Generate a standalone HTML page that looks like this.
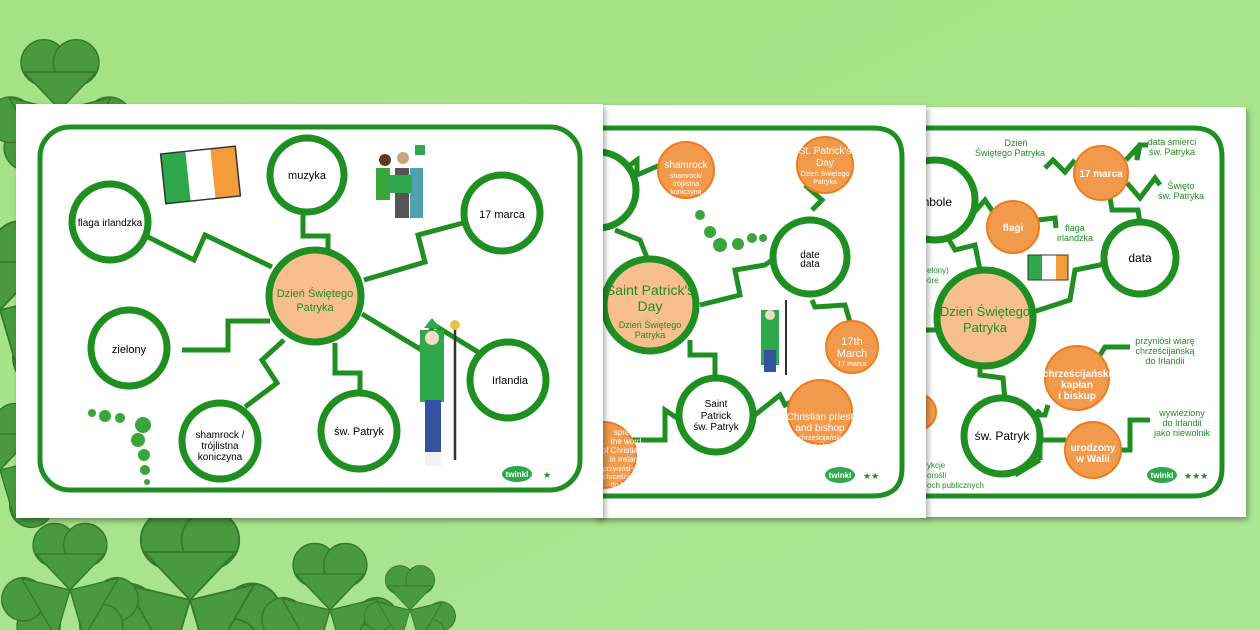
<!DOCTYPE html>
<html><head><meta charset="utf-8"><style>
html,body{margin:0;padding:0;width:1260px;height:630px;overflow:hidden;background:#a6e38a}
svg{display:block;position:absolute;left:0;top:0;overflow:hidden}
text{font-family:"Liberation Sans","DejaVu Sans",sans-serif}
</style></head><body>
<svg width="1260" height="630" viewBox="0 0 1260 630" xmlns="http://www.w3.org/2000/svg">
<defs>
<linearGradient id="bg" x1="0" y1="0" x2="1" y2="1"><stop offset="0" stop-color="#a3e285"/><stop offset="1" stop-color="#ace692"/></linearGradient>
<filter id="sh" x="-5%" y="-5%" width="110%" height="110%"><feDropShadow dx="2" dy="3" stdDeviation="3" flood-color="#000" flood-opacity="0.35"/></filter>
<g id="leaf"><circle cx="-17" cy="-12" r="24"/><circle cx="17" cy="-12" r="24"/><path d="M-38 -2 L0 38 L38 -2Z"/></g>
<g id="clover"><use href="#leaf" transform="translate(0,-38)"/><use href="#leaf" transform="rotate(120) translate(0,-38)"/><use href="#leaf" transform="rotate(240) translate(0,-38)"/></g>
<clipPath id="cp"><rect width="1260" height="630"/></clipPath>
</defs>
<g clip-path="url(#cp)">
<rect width="1260" height="630" fill="url(#bg)"/>
<g fill="#489a3c" stroke="#35782b" stroke-width="1.5">
<use href="#clover" transform="translate(60,110) scale(0.95)"/>
<use href="#clover" transform="translate(0,310) scale(1.2)"/>
<use href="#clover" transform="translate(0,470) scale(0.9)"/>
<use href="#clover" transform="translate(190,600) scale(1.2)"/>
<use href="#clover" transform="translate(330,610) scale(0.9)"/>
<use href="#clover" transform="translate(410,610) scale(0.6)"/>
<use href="#clover" transform="translate(70,590) scale(0.9)"/>
</g>

<!-- Card 3 -->
<g filter="url(#sh)"><rect x="924" y="107" width="322" height="410" fill="#fff"/></g>
<g stroke="#1f8f22" stroke-width="5" fill="none">
<path d="M920 128 H1193 Q1222 128 1222 157 V468 Q1222 496 1193 496 H926"/>
<path d="M972 215 L985 200 L995 215 L1000 222"/>
<path d="M948 238 L955 250 L975 245 L980 270"/>
<path d="M1038 220 L1055 218 L1056 228"/>
<path d="M1033 312 L1070 300 L1075 270 L1100 265 L1106 262"/>
<path d="M1110 197 L1112 210 L1138 210 L1140 223"/>
<path d="M1045 168 L1053 160 L1065 172 L1075 160"/>
<path d="M1126 160 L1137 148 L1137 160 L1140 145 L1148 145"/>
<path d="M1127 183 L1140 198 L1155 178 L1160 185"/>
<path d="M980 365 L980 375 L1003 378 L1005 400"/>
<path d="M1040 410 L1035 415 L1045 415 L1048 405"/>
<path d="M1097 360 L1105 347 L1130 347"/>
<path d="M1040 460 L1040 440 L1066 440"/>
<path d="M1120 450 L1130 450 L1130 420 L1150 420"/>
<path d="M1015 475 L1040 460"/>
<path d="M925 330 L940 330"/>
</g>
<g stroke="#1f8f22" stroke-width="7">
<circle cx="935" cy="200" r="40" fill="#fff"/>
<circle cx="1140" cy="258" r="36" fill="#fff"/>
<circle cx="985" cy="318" r="48" fill="#f7bf8d"/>
<circle cx="1002" cy="436" r="38" fill="#fff"/>
</g>
<g stroke="#f07a1e" stroke-width="2" fill="#f29a4c">
<circle cx="1013" cy="227" r="26"/><circle cx="1101" cy="173" r="27"/><circle cx="1077" cy="378" r="32"/><circle cx="1093" cy="450" r="28"/><circle cx="918" cy="412" r="18"/>
</g>
<rect x="1028" y="255" width="14" height="25" fill="#2ea84a"/><rect x="1042" y="255" width="14" height="25" fill="#fff"/><rect x="1056" y="255" width="12" height="25" fill="#f59c3a"/><rect x="1028" y="255" width="40" height="25" fill="none" stroke="#333" stroke-width="1"/>
<g fill="#1f8f22" font-size="13" text-anchor="middle"><text x="985" y="316">Dzień Świętego</text><text x="985" y="332">Patryka</text></g>
<g font-size="12" fill="#000" text-anchor="middle">
<text x="952" y="206" text-anchor="end">mbole</text>
<text x="1140" y="262">data</text>
<text x="1002" y="440">św. Patryk</text>
</g>
<g fill="#fff" text-anchor="middle" font-weight="bold" font-size="10">
<text x="1013" y="231">flagi</text><text x="1101" y="177">17 marca</text>
<text x="1077" y="377">chrześcijański</text><text x="1077" y="388">kapłan</text><text x="1077" y="399">i biskup</text>
<text x="1093" y="451">urodzony</text><text x="1093" y="462">w Walii</text>
</g>
<g fill="#1f8f22" font-size="9" text-anchor="middle">
<text x="1016" y="146">Dzień</text><text x="1010" y="156">Świętego Patryka</text>
<text x="1172" y="145">data śmierci</text><text x="1172" y="155">św. Patryka</text>
<text x="1181" y="189">Święto</text><text x="1181" y="199">św. Patryka</text>
<text x="1075" y="231">flaga</text><text x="1075" y="241">irlandzka</text>
<text x="1165" y="344">przyniósł wiarę</text><text x="1165" y="354">chrześcijańską</text><text x="1165" y="364">do Irlandii</text>
<text x="1182" y="416">wywieziony</text><text x="1182" y="426">do Irlandii</text><text x="1182" y="436">jako niewolnik</text>
</g>
<g fill="#1f8f22" font-size="8"><text x="927" y="273">elony)</text><text x="927" y="283">óre</text><text x="927" y="468">ykcje</text><text x="927" y="478">orośli</text><text x="927" y="488">och publicznych</text></g>
<ellipse cx="1162" cy="475" rx="15" ry="8" fill="#2ea84a"/><text x="1162" y="478" font-size="8" fill="#fff" text-anchor="middle" font-weight="bold">twinkl</text>
<text x="1184" y="479" font-size="9" fill="#1f8f22">★★★</text>

<!-- Card 2 -->
<g filter="url(#sh)"><rect x="596" y="105" width="330" height="413" fill="#fff"/></g>
<g stroke="#1f8f22" stroke-width="5" fill="none">
<path d="M603 128 H873 Q902 128 902 157 V468 Q902 496 873 496 H603"/>
<path d="M630 165 L637 160 L637 175 L660 165"/>
<path d="M615 230 L640 240 L648 260"/>
<path d="M700 305 L740 295 L735 270 L765 265 L772 260"/>
<path d="M805 185 L822 200 L812 210"/>
<path d="M812 300 L815 307 L845 305 L850 322"/>
<path d="M690 340 L690 355 L715 355 L715 380"/>
<path d="M680 420 L665 410 L665 440 L630 440"/>
<path d="M755 415 L780 395 L785 405 L795 400"/>
</g>
<g stroke="#1f8f22" stroke-width="7">
<circle cx="598" cy="190" r="38" fill="#fff"/>
<circle cx="810" cy="257" r="37" fill="#fff"/>
<circle cx="650" cy="305" r="46" fill="#f7bf8d"/>
<circle cx="716" cy="415" r="37" fill="#fff"/>
</g>
<g stroke="#f07a1e" stroke-width="2" fill="#f29a4c">
<circle cx="686" cy="170" r="28"/><circle cx="825" cy="165" r="28"/><circle cx="852" cy="347" r="26"/><circle cx="820" cy="412" r="32"/><circle cx="603" cy="455" r="33"/>
</g>
<g fill="#000" font-size="10" text-anchor="middle">
<text x="810" y="258">date</text><text x="810" y="267">data</text>
<text x="716" y="407">Saint</text><text x="716" y="419">Patrick</text><text x="716" y="430">św. Patryk</text>
</g>
<g fill="#1f8f22" text-anchor="middle">
<text x="650" y="295" font-size="14">Saint Patrick's</text><text x="650" y="311" font-size="14">Day</text>
<text x="650" y="328" font-size="9">Dzień Świętego</text><text x="650" y="338" font-size="9">Patryka</text>
</g>
<g fill="#fff" text-anchor="middle" font-size="9">
<text x="686" y="168" font-size="10">shamrock</text><text x="686" y="178" font-size="7">shamrock/</text><text x="686" y="186" font-size="7">trójlistna</text><text x="686" y="194" font-size="7">koniczyna</text>
<text x="825" y="154" font-size="10">St. Patrick's</text><text x="825" y="166" font-size="10">Day</text><text x="825" y="176" font-size="7">Dzień Świętego</text><text x="825" y="184" font-size="7">Patryka</text>
<text x="852" y="345" font-size="11">17th</text><text x="852" y="357" font-size="11">March</text><text x="852" y="366" font-size="7">17 marca</text>
<text x="820" y="420" font-size="10">Christian priest</text><text x="820" y="431" font-size="10">and bishop</text><text x="820" y="440" font-size="7">chrześcijański</text><text x="820" y="448" font-size="7">kapłan i biskup</text>
<text x="626" y="435" font-size="8">spread</text><text x="626" y="444" font-size="8">the word</text><text x="626" y="453" font-size="8">of Christianity</text><text x="626" y="462" font-size="8">in Ireland</text><text x="626" y="471" font-size="7">przyniósł wiarę</text><text x="626" y="479" font-size="7">chrześcijańską</text><text x="626" y="487" font-size="7">do Irlandii</text>
</g>
<g fill="#3aa53a"><circle cx="700" cy="215" r="5"/><circle cx="710" cy="232" r="6"/><circle cx="720" cy="245" r="7"/><circle cx="738" cy="244" r="6"/><circle cx="752" cy="238" r="5"/><circle cx="763" cy="238" r="4"/></g>
<g><rect x="761" y="310" width="18" height="55" fill="#2ea84a"/><rect x="764" y="350" width="12" height="22" fill="#3452a0"/><circle cx="770" cy="315" r="5" fill="#f2dcc8"/><line x1="786" y1="300" x2="786" y2="375" stroke="#333" stroke-width="2"/></g>
<ellipse cx="840" cy="475" rx="15" ry="8" fill="#2ea84a"/><text x="840" y="478" font-size="8" fill="#fff" text-anchor="middle" font-weight="bold">twinkl</text>
<text x="863" y="479" font-size="9" fill="#1f8f22">★★</text>

<!-- Card 1 -->
<g filter="url(#sh)"><rect x="16" y="104" width="587" height="414" fill="#fff"/></g>
<g stroke="#1f8f22" stroke-width="5" fill="none">
<rect x="40" y="127" width="540" height="363" rx="30"/>
<path d="M148 237 L194 260 L205 235 L272 267"/>
<path d="M303 214 L303 236 L328 236 L328 252"/>
<path d="M364 280 L425 262 L418 235 L463 223"/>
<path d="M182 350 L228 350 L228 321 L270 321"/>
<path d="M362 314 L420 349 L434 325 L478 352"/>
<path d="M284 340 L262 360 L277 383 L245 407"/>
<path d="M335 343 L335 373 L360 373 L360 397"/>
</g>
<g stroke="#1f8f22" stroke-width="7" fill="#fff">
<circle cx="307" cy="175" r="37"/>
<circle cx="110" cy="222" r="38"/>
<circle cx="502" cy="213" r="38"/>
<circle cx="129" cy="348" r="38"/>
<circle cx="508" cy="380" r="38"/>
<circle cx="359" cy="431" r="38"/>
<circle cx="220" cy="441" r="38"/>
<circle cx="315" cy="296" r="46" fill="#f7bf8d"/>
</g>
<g fill="#000" font-size="11" text-anchor="middle">
<text x="307" y="179">muzyka</text>
<text x="110" y="226" font-size="10">flaga irlandzka</text>
<text x="502" y="218">17 marca</text>
<text x="129" y="353">zielony</text>
<text x="510" y="384">Irlandia</text>
<text x="359" y="435">św. Patryk</text>
<text x="220" y="438" font-size="10">shamrock /</text><text x="220" y="449" font-size="10">trójlistna</text><text x="220" y="460" font-size="10">koniczyna</text>
</g>
<g fill="#1f8f22" font-size="11" text-anchor="middle"><text x="315" y="297">Dzień Świętego</text><text x="315" y="311">Patryka</text></g>
<g transform="rotate(-6 200 175)"><rect x="163" y="150" width="25" height="50" fill="#2ea84a"/><rect x="188" y="150" width="25" height="50" fill="#fff"/><rect x="213" y="150" width="25" height="50" fill="#f59c3a"/><rect x="163" y="150" width="75" height="50" fill="none" stroke="#333" stroke-width="1.5"/></g>
<g><circle cx="385" cy="160" r="6" fill="#5a3b1e"/><circle cx="403" cy="158" r="6" fill="#c9a67f"/><rect x="415" y="145" width="10" height="10" fill="#2ea84a"/><rect x="376" y="168" width="14" height="32" fill="#3aa53a"/><rect x="395" y="168" width="14" height="50" fill="#555"/><rect x="410" y="168" width="13" height="50" fill="#4fa0b0"/><rect x="388" y="175" width="24" height="18" fill="#2ea84a"/></g>
<g><rect x="420" y="330" width="24" height="72" fill="#2ea84a"/><rect x="425" y="400" width="16" height="55" fill="#3452a0"/><rect x="425" y="452" width="16" height="14" fill="#f2f2f2"/><circle cx="432" cy="338" r="7" fill="#f2dcc8"/><path d="M424 328 L432 318 L440 328Z" fill="#2ea84a"/><line x1="455" y1="325" x2="455" y2="460" stroke="#333" stroke-width="2.5"/><circle cx="455" cy="325" r="5" fill="#e4c14a"/></g>
<g fill="#3aa53a"><circle cx="92" cy="413" r="4"/><circle cx="105" cy="416" r="6"/><circle cx="120" cy="418" r="5"/><circle cx="143" cy="425" r="8"/><circle cx="138" cy="440" r="7"/><circle cx="144" cy="455" r="6"/><circle cx="145" cy="470" r="5"/><circle cx="147" cy="482" r="3"/></g>
<ellipse cx="517" cy="474" rx="15" ry="8" fill="#2ea84a"/><text x="517" y="477" font-size="8" fill="#fff" text-anchor="middle" font-weight="bold">twinkl</text>
<text x="543" y="478" font-size="9" fill="#1f8f22">★</text>
</g>
</svg>
</body></html>
